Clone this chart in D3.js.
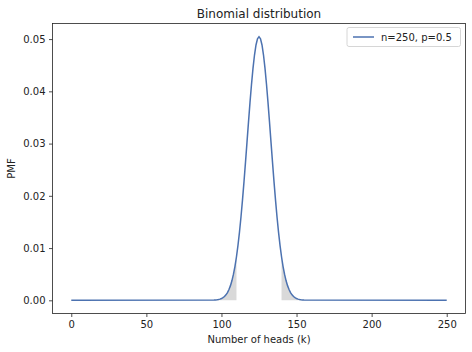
<!DOCTYPE html>
<html>
<head>
<meta charset="utf-8">
<script src="https://cdn.jsdelivr.net/npm/d3@7"></script>
<style>
  body { margin: 0; background: #fff; }
  svg { display: block; font-family: "DejaVu Sans", sans-serif; }
</style>
</head>
<body>
<svg id="chart"></svg>
<script>
// number of heads k
const ks = [0, 95, 96, 97, 98, 99, 100, 101, 102, 103, 104, 105, 106, 107, 108, 109, 110,
  111, 112, 113, 114, 115, 116, 117, 118, 119, 120, 121, 122, 123, 124, 125,
  126, 127, 128, 129, 130, 131, 132, 133, 134, 135, 136, 137, 138, 139, 140,
  141, 142, 143, 144, 145, 146, 147, 148, 149, 150, 151, 152, 153, 154, 155, 250];
const pmf = [0, 0.00004, 0.00006, 0.0001, 0.00015, 0.00023, 0.00034, 0.0005, 0.00073, 0.00105, 0.00148, 0.00206,
  0.00281, 0.00378, 0.0050, 0.00651, 0.00834,
  0.01052, 0.01305, 0.01595, 0.01917, 0.02267, 0.0264, 0.03024, 0.0341, 0.03783, 0.04131, 0.0444,
  0.04695, 0.04887, 0.05006, 0.05046,
  0.05006, 0.04887, 0.04695, 0.0444, 0.04131, 0.03783, 0.0341, 0.03024, 0.0264, 0.02267,
  0.01917, 0.01595, 0.01305, 0.01052, 0.00834,
  0.00651, 0.0050, 0.00378, 0.00281, 0.00206, 0.00148, 0.00105, 0.00073, 0.0005, 0.00034,
  0.00023, 0.00015, 0.0001, 0.00006, 0.00004, 0];
const xTicks = [0, 50, 100, 150, 200, 250];
const yTicks = [0, 0.01, 0.02, 0.03, 0.04, 0.05];
const tailLow = 110, tailHigh = 140;
const seriesLabel = 'n=250, p=0.5';

const width = 472, height = 352;
const margin = {top: 23.5, right: 6.5, bottom: 38.5, left: 52.5};
const innerW = width - margin.left - margin.right;
const innerH = height - margin.top - margin.bottom;
const lineColor = '#4c72b0';

const data = ks.map((k, i) => ({k: k, p: pmf[i]}));

const svg = d3.select('#chart').attr('width', width).attr('height', height);
const chart = svg.append('g').attr('transform', `translate(${margin.left},${margin.top})`);

const x = d3.scaleLinear().domain([-12.5, 262.5]).range([0, innerW]);
const y = d3.scaleLinear().domain([-0.002523, 0.052983]).range([innerH, 0]);

const area = d3.area().x(d => x(d.k)).y0(y(0)).y1(d => y(d.p));

chart.append('path')
    .datum(data.filter(d => d.k <= tailLow))
    .attr('d', area)
    .attr('fill', '#d9d9d9');

chart.append('path')
    .datum(data.filter(d => d.k >= tailHigh))
    .attr('d', area)
    .attr('fill', '#d9d9d9');

chart.append('path')
    .datum(data)
    .attr('d', d3.line().x(d => x(d.k)).y(d => y(d.p)))
    .attr('fill', 'none')
    .attr('stroke', lineColor)
    .attr('stroke-width', 1.5);

const xAxis = chart.append('g')
    .attr('transform', `translate(0,${innerH})`)
    .call(d3.axisBottom(x).tickValues(xTicks).tickSize(3.5).tickPadding(3.5).tickFormat(d3.format('d')));
const yAxis = chart.append('g')
    .call(d3.axisLeft(y).tickValues(yTicks).tickSize(3.5).tickPadding(3.5).tickFormat(d3.format('.2f')));

[xAxis, yAxis].forEach(g => {
    g.select('.domain').remove();
    g.selectAll('text').attr('font-size', 10).attr('fill', '#222').attr('font-family', '"DejaVu Sans", sans-serif');
    g.selectAll('line').attr('stroke', '#222').attr('stroke-width', 0.8);
});

chart.append('rect')
    .attr('width', innerW).attr('height', innerH)
    .attr('fill', 'none').attr('stroke', '#222').attr('stroke-width', 0.8);

svg.append('text')
    .attr('x', margin.left + innerW / 2).attr('y', 18)
    .attr('text-anchor', 'middle').attr('font-size', 12).attr('fill', '#222')
    .text('Binomial distribution');

svg.append('text')
    .attr('x', margin.left + innerW / 2).attr('y', 343)
    .attr('text-anchor', 'middle').attr('font-size', 10).attr('fill', '#222')
    .text('Number of heads (k)');

svg.append('text')
    .attr('transform', `translate(15,${margin.top + innerH / 2}) rotate(-90)`)
    .attr('text-anchor', 'middle').attr('font-size', 10).attr('fill', '#222')
    .text('PMF');

// legend
const legend = svg.append('g').attr('transform', 'translate(347,27.5)');
legend.append('rect')
    .attr('width', 113.5).attr('height', 19).attr('rx', 2)
    .attr('fill', '#fff').attr('fill-opacity', 0.8)
    .attr('stroke', '#ccc').attr('stroke-width', 0.8);
legend.append('line')
    .attr('x1', 6).attr('x2', 27).attr('y1', 9.5).attr('y2', 9.5)
    .attr('stroke', lineColor).attr('stroke-width', 1.5);
legend.append('text')
    .attr('x', 34).attr('y', 13.3).attr('font-size', 10).attr('fill', '#222')
    .text(seriesLabel);
</script>
</body>
</html>
